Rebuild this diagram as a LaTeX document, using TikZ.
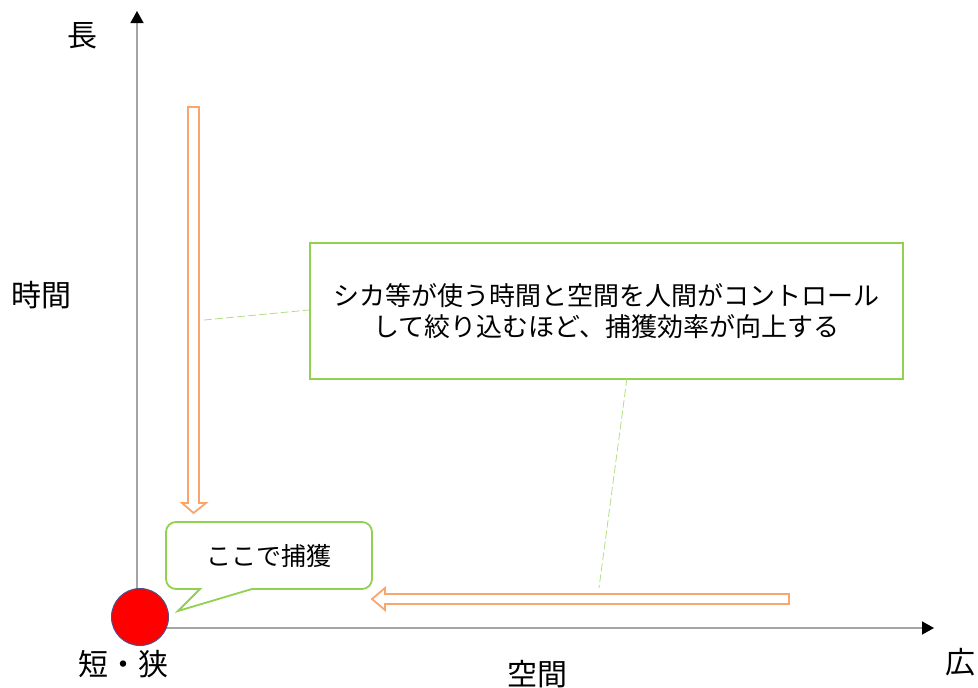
\documentclass[tikz,border=0pt]{standalone}
\usepackage{fontspec}
\newfontfamily\jp{Noto Sans CJK JP}
\usetikzlibrary{arrows.meta}
\definecolor{arrorange}{RGB}{248,165,110}
\definecolor{boxgreen}{RGB}{146,208,80}
\definecolor{axisgray}{RGB}{165,165,165}
\definecolor{circborder}{RGB}{80,80,140}
\tikzset{
  axisline/.style={draw=axisgray, line width=1.6pt, -{Triangle[length=12pt,width=13pt,color=black,fill=black]}},
  hollowarrow/.style={draw=arrorange, line width=1.8pt, fill=white, line join=miter},
  axislabel/.style={font=\jp\fontsize{30}{34}\selectfont, inner sep=0pt},
  leader/.style={draw=boxgreen!70, line width=0.8pt, dash pattern=on 8pt off 3pt},
}
\begin{document}
\begin{tikzpicture}[x=1pt,y=-1pt]
\useasboundingbox (0,0) rectangle (978,688);
% axes
\coordinate (O) at (137,628);
\coordinate (ytop) at (137,11);
\coordinate (xend) at (934,628);
\draw[axisline] (O) -- (ytop);
\draw[axisline] (O) -- (xend);
% axis labels
\node[axislabel] (long) at (82,36) {長};
\node[axislabel] (time) at (42,295) {時間};
\node[axislabel] (shortnarrow) at (123,664) {短・狭};
\node[axislabel] (space) at (537,674) {空間};
\node[axislabel] (wide) at (960,662) {広};
% hollow arrows
\draw[hollowarrow] (188,107) -- (199,107) -- (199,503) -- (206,503) -- (193.5,513) -- (182,503) -- (188,503) -- cycle;
\draw[hollowarrow] (789,594) -- (789,604) -- (385,604) -- (385,610) -- (372,599) -- (385,588) -- (385,594) -- cycle;
% main box
\node[draw=boxgreen, line width=2pt, fill=white, minimum width=593pt, minimum height=136pt, inner sep=0pt,
      align=center, font=\jp\fontsize{26}{31}\selectfont] (main) at (606.5,311)
  {シカ等が使う時間と空間を人間がコントロール\\して絞り込むほど、捕獲効率が向上する};
% leader lines
\coordinate (l1) at (204,320);
\coordinate (l1b) at (main.west |- 0,310);
\coordinate (l2) at (599,588);
\coordinate (l2b) at (627,378);
\draw[leader] (l1) -- (l1b);
\draw[leader] (l2b) -- (l2);
% callout
\draw[draw=boxgreen, line width=1.8pt, fill=white, rounded corners=10pt]
  (252,589) -- (372,589) -- (372,522) -- (166,522) -- (166,589) [sharp corners] -- (200,589) -- (178,611) -- (252,589);
\node[font=\jp\fontsize{25}{28}\selectfont, inner sep=0pt] (catch) at (269,556) {ここで捕獲};
% red circle
\node[circle, draw=circborder, line width=1pt, fill=red, minimum size=57pt, inner sep=0pt] (target) at (140,617) {};
\end{tikzpicture}
\end{document}
